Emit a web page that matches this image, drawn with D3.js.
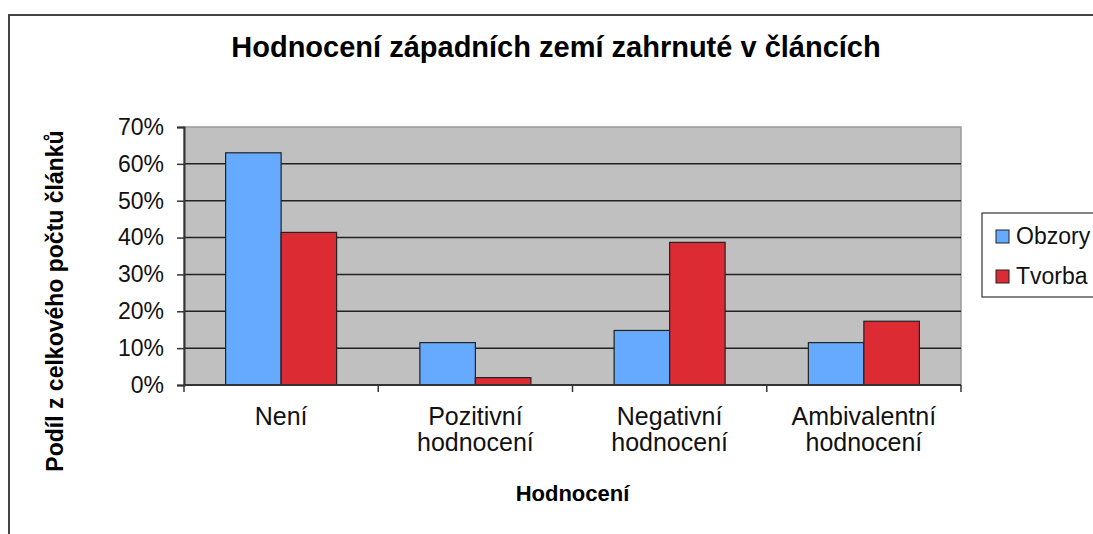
<!DOCTYPE html>
<html>
<head>
<meta charset="utf-8">
<script src="https://cdn.jsdelivr.net/npm/d3@7"></script>
<style>
  body { margin: 0; background: #fff; }
  text { font-family: "Liberation Sans", Arial, sans-serif; }
</style>
</head>
<body>
<script>
var categories = [["Není"], ["Pozitivní", "hodnocení"], ["Negativní", "hodnocení"], ["Ambivalentní", "hodnocení"]];
var seriesNames = ["Obzory", "Tvorba"];
var obzory = [0.63, 0.115, 0.148, 0.115];
var tvorba = [0.414, 0.02, 0.387, 0.173];
var yTicks = [0, 0.1, 0.2, 0.3, 0.4, 0.5, 0.6, 0.7];
var colors = ["#66aaff", "#dd2b33"];

var W = 1093, H = 534;
var plotLeft = 184, plotRight = 961, plotTop = 127, plotBottom = 385;

var svg = d3.select("body").append("svg")
  .attr("width", W)
  .attr("height", H);

// outer frame
svg.append("rect")
  .attr("x", 9).attr("y", 15)
  .attr("width", W + 20).attr("height", H + 20)
  .attr("fill", "none")
  .attr("stroke", "#444")
  .attr("stroke-width", 2);

var x0 = d3.scaleBand()
  .domain(d3.range(categories.length))
  .range([plotLeft, plotRight]);

var x1 = d3.scaleBand()
  .domain([0, 1])
  .range([0, x0.bandwidth()])
  .paddingOuter(0.75);

var y = d3.scaleLinear()
  .domain([0, 0.7])
  .range([plotBottom, plotTop]);

// plot background
svg.append("rect")
  .attr("x", plotLeft).attr("y", plotTop)
  .attr("width", plotRight - plotLeft).attr("height", plotBottom - plotTop)
  .attr("fill", "#c0c0c0")
  .attr("stroke", "#999")
  .attr("stroke-width", 1.5);

// gridlines
svg.selectAll("line.grid")
  .data(yTicks.slice(1, -1))
  .enter()
  .append("line")
  .attr("class", "grid")
  .attr("x1", plotLeft).attr("x2", plotRight)
  .attr("y1", function(d) { return y(d); })
  .attr("y2", function(d) { return y(d); })
  .attr("stroke", "#222")
  .attr("stroke-width", 1.5);

// y axis
var yAxis = svg.append("g")
  .attr("transform", "translate(" + plotLeft + ",0)")
  .call(d3.axisLeft(y).tickValues(yTicks).tickSize(7).tickPadding(13)
    .tickFormat(d3.format(".0%")));
yAxis.select(".domain").attr("stroke", "#333").attr("stroke-width", 2);
yAxis.selectAll(".tick line").attr("stroke", "#333").attr("stroke-width", 1.5);
yAxis.selectAll(".tick text")
  .attr("font-size", "23px")
  .attr("fill", "#111")
  .style("font-family", "'Liberation Sans', Arial, sans-serif");

// bars
var data = [obzory, tvorba];
data.forEach(function(vals, s) {
  svg.selectAll("rect.s" + s)
    .data(vals)
    .enter()
    .append("rect")
    .attr("class", "s" + s)
    .attr("x", function(d, i) { return x0(i) + x1(s); })
    .attr("y", function(d) { return y(d); })
    .attr("width", x1.bandwidth())
    .attr("height", function(d) { return plotBottom - y(d); })
    .attr("fill", colors[s])
    .attr("stroke", "#222")
    .attr("stroke-width", 1.2);
});

// x axis
svg.append("line")
  .attr("x1", plotLeft).attr("x2", plotRight)
  .attr("y1", plotBottom).attr("y2", plotBottom)
  .attr("stroke", "#333").attr("stroke-width", 2);

svg.selectAll("line.xtick")
  .data(d3.range(categories.length + 1))
  .enter()
  .append("line")
  .attr("class", "xtick")
  .attr("x1", function(d) { return plotLeft + d * x0.step(); })
  .attr("x2", function(d) { return plotLeft + d * x0.step(); })
  .attr("y1", plotBottom).attr("y2", plotBottom + 7)
  .attr("stroke", "#333").attr("stroke-width", 1.5);

var catLabels = svg.selectAll("text.cat")
  .data(categories)
  .enter()
  .append("text")
  .attr("class", "cat")
  .attr("text-anchor", "middle")
  .attr("font-size", "25px")
  .attr("fill", "#111")
  .attr("transform", function(d, i) {
    return "translate(" + (x0(i) + x0.bandwidth() / 2) + ",425)";
  });
catLabels.selectAll("tspan")
  .data(function(d) { return d; })
  .enter()
  .append("tspan")
  .attr("x", 0)
  .attr("y", function(d, i) { return i * 26; })
  .text(function(d) { return d; });

// titles
svg.append("text")
  .attr("x", 556).attr("y", 57)
  .attr("text-anchor", "middle")
  .attr("font-size", "29px")
  .attr("font-weight", "bold")
  .text("Hodnocení západních zemí zahrnuté v článcích");

svg.append("text")
  .attr("x", (plotLeft + plotRight) / 2).attr("y", 501)
  .attr("text-anchor", "middle")
  .attr("font-size", "22px")
  .attr("font-weight", "bold")
  .text("Hodnocení");

svg.append("text")
  .attr("transform", "translate(63,301) rotate(-90)")
  .attr("text-anchor", "middle")
  .attr("font-size", "23px")
  .attr("font-weight", "bold")
  .text("Podíl z celkového počtu článků");

// legend
var legend = svg.append("g").attr("transform", "translate(982,213)");
legend.append("rect")
  .attr("width", 120).attr("height", 84)
  .attr("fill", "#fff")
  .attr("stroke", "#333")
  .attr("stroke-width", 1.2);
seriesNames.forEach(function(name, i) {
  legend.append("rect")
    .attr("x", 14).attr("y", 17 + i * 40)
    .attr("width", 13).attr("height", 13)
    .attr("fill", colors[i])
    .attr("stroke", "#222");
  legend.append("text")
    .attr("x", 34).attr("y", 31 + i * 40)
    .attr("font-size", "23px")
    .attr("fill", "#111")
    .text(name);
});
</script>
</body>
</html>
